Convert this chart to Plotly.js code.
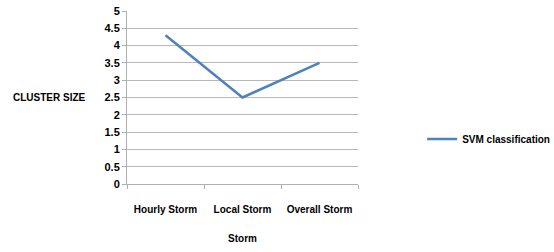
<!DOCTYPE html>
<html><head><meta charset="utf-8">
<script src="https://cdn.plot.ly/plotly-3.0.1.min.js"></script>
<style>body{margin:0;padding:0;background:#fff}#chart{width:554px;height:252px}</style>
</head><body><div id="chart"></div>
<script>
const categories = ["Hourly Storm", "Local Storm", "Overall Storm"];
const svmValues = [4.3, 2.5, 3.5];
const seriesName = "SVM classification";
const yTickVals = [0, 0.5, 1, 1.5, 2, 2.5, 3, 3.5, 4, 4.5, 5];

const F = "'Liberation Sans', Arial, sans-serif";
const trace = {
  x: categories, y: svmValues, name: seriesName, type: "scatter", mode: "lines",
  line: {color: "#4F81BD", width: 2.5}
};
const layout = {
  width: 554, height: 252,
  margin: {l: 127, r: 196, t: 11, b: 68},
  paper_bgcolor: "#fff", plot_bgcolor: "#fff",
  font: {family: F, color: "#000", size: 10, weight: "bold"},
  showlegend: true,
  legend: {xref: "container", yref: "container", x: 0.762, y: 0.448, xanchor: "left", yanchor: "middle",
           font: {family: F, size: 10, weight: "bold"}, bgcolor: "rgba(0,0,0,0)"},
  xaxis: {
    type: "category", range: [-0.5, 2.5], showgrid: false, showline: true, linecolor: "#b0b0b0", linewidth: 1,
    ticks: "outside", tickson: "boundaries", ticklen: 4, tickcolor: "#b0b0b0", tickangle: 0,
    ticklabelstandoff: 16,
    tickfont: {family: F, size: 10, weight: "bold"}, zeroline: false,
    title: {text: "Storm", font: {family: F, size: 10, weight: "bold"}, standoff: 20}
  },
  yaxis: {
    range: [0, 5], tickvals: yTickVals, ticktext: yTickVals.map(String),
    showgrid: true, gridcolor: "#b8b8b8", gridwidth: 1, showline: true, linecolor: "#b0b0b0",
    ticks: "outside", ticklen: 4, tickcolor: "#b0b0b0", zeroline: false,
    tickfont: {family: F, size: 11, weight: "bold"}
  },
  annotations: [{
    text: "CLUSTER SIZE", xref: "paper", yref: "paper", x: -0.17, y: 0.5, xanchor: "right", yanchor: "middle",
    showarrow: false, font: {family: F, size: 10, weight: "bold"}
  }]
};
Plotly.newPlot("chart", [trace], layout, {displayModeBar: false, staticPlot: true});
</script></body></html>
